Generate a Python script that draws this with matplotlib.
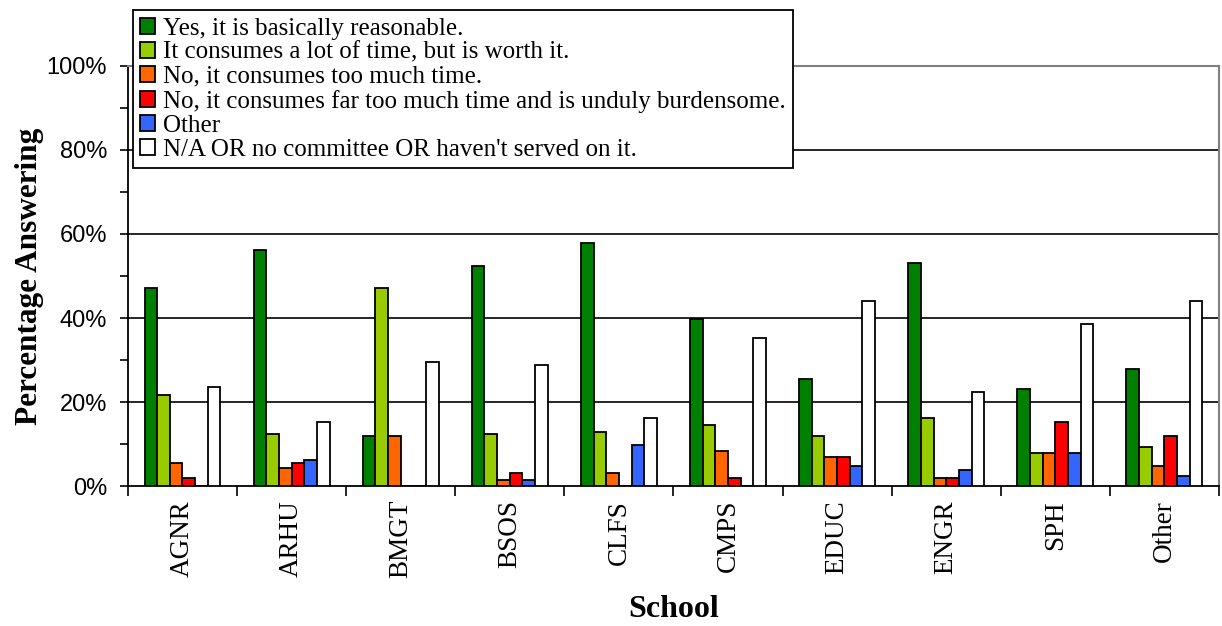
import numpy as np
import matplotlib
matplotlib.use('Agg')
from matplotlib import pyplot as plt
from matplotlib.ticker import MultipleLocator, PercentFormatter

# Schools and answer shares (percent)
schools = ['AGNR', 'ARHU', 'BMGT', 'BSOS', 'CLFS', 'CMPS', 'EDUC', 'ENGR', 'SPH', 'Other']
answers = ['Yes, it is basically reasonable.',
           'It consumes a lot of time, but is worth it.',
           'No, it consumes too much time.',
           'No, it consumes far too much time and is unduly burdensome.',
           'Other',
           "N/A OR no committee OR haven't served on it."]

reasonable = [47.1, 56.2, 11.8, 52.3, 57.9, 39.7, 25.5, 53.1, 23.2, 27.9]
worth_it = [21.7, 12.5, 47.2, 12.5, 12.9, 14.5, 11.8, 16.1, 7.9, 9.4]
too_much = [5.5, 4.3, 11.8, 1.5, 3.2, 8.3, 7.0, 1.9, 7.9, 4.7]
far_too_much = [1.9, 5.6, 0.0, 3.2, 0.0, 1.9, 7.0, 1.9, 15.3, 11.8]
other = [0.0, 6.3, 0.0, 1.5, 9.8, 0.0, 4.7, 3.9, 7.9, 2.3]
not_applicable = [23.6, 15.3, 29.6, 28.7, 16.2, 35.3, 44.0, 22.4, 38.6, 44.0]

series = [reasonable, worth_it, too_much, far_too_much, other, not_applicable]
colors = ['#008000', '#99CC00', '#FF6600', '#FF0000', '#3366FF', '#FFFFFF']

serif = 'Liberation Serif'
sans = 'Liberation Sans'

fig = plt.figure(figsize=(12.22, 6.26), dpi=100)
ax = fig.add_axes([0.1047, 0.2236, 0.8928, 0.671])

x = np.arange(len(schools))
w = 0.116
for i, (vals, col, lab) in enumerate(zip(series, colors, answers)):
    ax.bar(x + (i - 2.5) * w, vals, w, color=col, edgecolor='black',
           linewidth=1.3, label=lab, zorder=3)

ax.set_xlim(-0.5, len(schools) - 0.5)
ax.set_ylim(0, 100)

# grid lines
for g in [20, 40, 60, 80]:
    ax.axhline(g, color='black', linewidth=1.2, zorder=1)

ax.yaxis.set_major_locator(MultipleLocator(20))
ax.yaxis.set_minor_locator(MultipleLocator(10))
ax.yaxis.set_major_formatter(PercentFormatter(decimals=0))
ax.tick_params(axis='y', which='major', direction='out', length=6, width=1.2,
               labelsize=17, pad=9)
ax.tick_params(axis='y', which='minor', direction='out', length=6, width=1.2)
for t in ax.get_yticklabels():
    t.set_fontfamily(sans)

# category separators as ticks
ax.set_xticks(np.arange(len(schools) + 1) - 0.5)
ax.set_xticklabels([])
ax.set_xticks(x, minor=True)
ax.set_xticklabels(schools, minor=True, rotation=90, fontfamily=serif, fontsize=19.5)
ax.tick_params(axis='x', which='major', direction='out', length=7, width=1.2)
ax.tick_params(axis='x', which='minor', length=0, pad=10)

ax.spines['left'].set_linewidth(1.3)
ax.spines['bottom'].set_linewidth(1.3)
ax.spines['top'].set_color('#808080')
ax.spines['right'].set_color('#808080')
ax.spines['top'].set_linewidth(1.5)
ax.spines['right'].set_linewidth(1.5)

ax.set_ylabel('Percentage Answering', fontfamily=serif, fontweight='bold',
              fontsize=22.5, labelpad=2)
ax.set_xlabel('School', fontfamily=serif, fontweight='bold', fontsize=23,
              labelpad=12)

leg = ax.legend(loc='upper left', bbox_to_anchor=(0.0046, 1.133),
                borderaxespad=0, fancybox=False, framealpha=1,
                edgecolor='black', prop={'family': serif, 'size': 18},
                handlelength=0.6, handleheight=0.6, handletextpad=0.3,
                labelspacing=0.08, borderpad=0.3)
leg.get_frame().set_linewidth(1.3)
leg.set_zorder(5)

fig.savefig('out.png', dpi=100)
